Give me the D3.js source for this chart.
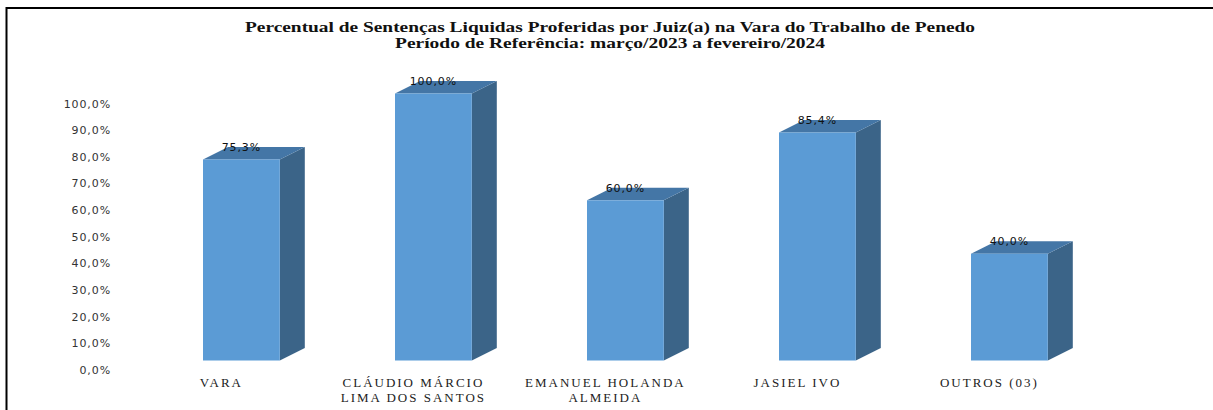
<!DOCTYPE html>
<html>
<head>
<meta charset="utf-8">
<script src="https://cdn.jsdelivr.net/npm/d3@7"></script>
<style>
  html, body { margin: 0; padding: 0; background: #fff; }
  svg { display: block; }
  .title { font-family: "Liberation Serif", "Times New Roman", serif; font-weight: bold; font-size: 14px; fill: #111; }
  .tick-label { font-family: "DejaVu Sans", Verdana, sans-serif; font-size: 11px; fill: #333; letter-spacing: 0.9px; }
  .value-label { font-family: "DejaVu Sans", Verdana, sans-serif; font-size: 11px; fill: #111; letter-spacing: 0.9px; }
  .cat-label { font-family: "Liberation Serif", "Times New Roman", serif; font-size: 13px; fill: #222; letter-spacing: 2px; }
</style>
</head>
<body>
<div id="chart"></div>
<script>
// data
const categories = ['VARA', 'CLÁUDIO MÁRCIO|LIMA DOS SANTOS', 'EMANUEL HOLANDA|ALMEIDA', 'JASIEL IVO', 'OUTROS (03)'];
const values = [75.3, 100.0, 60.0, 85.4, 40.0];
const tickValues = [0, 10, 20, 30, 40, 50, 60, 70, 80, 90, 100];
const titleLines = [
  'Percentual de Sentenças Liquidas Proferidas por Juiz(a) na Vara do Trabalho de Penedo',
  'Período de Referência: março/2023 a fevereiro/2024'
];

const W = 1213, H = 410;
const depth = { dx: 25, dy: -12.5 };
const colors = { front: '#5B9BD5', side: '#3B6488', top: '#4476A6' };

const fmt = v => v.toFixed(1).replace('.', ',') + '%';

const svg = d3.select('#chart')
  .append('svg')
  .attr('width', W)
  .attr('height', H);

// frame (left + top only)
svg.append('path')
  .attr('d', `M6.5,${H}V8H${W}`)
  .attr('fill', 'none')
  .attr('stroke', '#000')
  .attr('stroke-width', 2);

// title
svg.append('text').attr('class', 'title')
  .attr('x', 610).attr('y', 32)
  .attr('text-anchor', 'middle')
  .attr('textLength', 730).attr('lengthAdjust', 'spacingAndGlyphs')
  .text(titleLines[0]);
svg.append('text').attr('class', 'title')
  .attr('x', 610).attr('y', 48)
  .attr('text-anchor', 'middle')
  .attr('textLength', 430).attr('lengthAdjust', 'spacingAndGlyphs')
  .text(titleLines[1]);

const x = d3.scaleBand()
  .domain(categories)
  .range([145.4, 1105.4])
  .paddingInner(0.6)
  .paddingOuter(0.3);

const y = d3.scaleLinear().domain([0, 100]).range([360.5, 93.5]);
// the value axis sits on the back wall in the 3D chart
const yTick = d3.scaleLinear().domain([0, 100]).range([371, 104.5]);

// y tick labels
svg.append('g')
  .selectAll('text')
  .data(tickValues)
  .join('text')
  .attr('class', 'tick-label')
  .attr('x', 111)
  .attr('y', d => yTick(d))
  .attr('text-anchor', 'end')
  .attr('dominant-baseline', 'middle')
  .text(d => fmt(d));

const data = categories.map((c, i) => ({ cat: c, value: values[i] }));

const bars = svg.append('g')
  .selectAll('g')
  .data(data)
  .join('g');

// side face
bars.append('path')
  .attr('fill', colors.side)
  .attr('d', d => {
    const x1 = x(d.cat) + x.bandwidth();
    const yt = y(d.value), yb = y(0);
    return `M${x1},${yt}L${x1 + depth.dx},${yt + depth.dy}L${x1 + depth.dx},${yb + depth.dy}L${x1},${yb}Z`;
  });

// top face
bars.append('path')
  .attr('fill', colors.top)
  .attr('d', d => {
    const x0 = x(d.cat), x1 = x0 + x.bandwidth();
    const yt = y(d.value);
    return `M${x0},${yt}L${x1},${yt}L${x1 + depth.dx},${yt + depth.dy}L${x0 + depth.dx},${yt + depth.dy}Z`;
  });

// front face
bars.append('rect')
  .attr('fill', colors.front)
  .attr('x', d => x(d.cat))
  .attr('y', d => y(d.value))
  .attr('width', x.bandwidth())
  .attr('height', d => y(0) - y(d.value));

// value labels
bars.append('text')
  .attr('class', 'value-label')
  .attr('x', d => x(d.cat) + x.bandwidth() / 2)
  .attr('y', d => y(d.value) + depth.dy + 1)
  .attr('text-anchor', 'middle')
  .attr('dominant-baseline', 'middle')
  .text(d => fmt(d.value));

// category labels
const cats = svg.append('g')
  .selectAll('text')
  .data(categories)
  .join('text')
  .attr('class', 'cat-label')
  .attr('text-anchor', 'middle')
  .attr('x', d => x(d) + x.bandwidth() / 2 - 20)
  .attr('y', 387);

cats.selectAll('tspan')
  .data(d => d.split('|').map(t => ({ t, x: x(d) + x.bandwidth() / 2 - 20 })))
  .join('tspan')
  .attr('x', d => d.x)
  .attr('dy', (d, i) => i ? 15 : 0)
  .text(d => d.t);
</script>
</body>
</html>
